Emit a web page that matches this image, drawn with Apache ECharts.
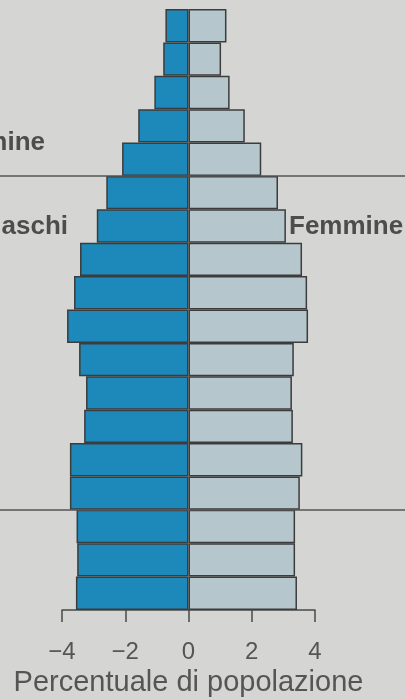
<!DOCTYPE html>
<html>
<head>
<meta charset="utf-8">
<script src="https://cdn.jsdelivr.net/npm/echarts@6/dist/echarts.min.js"></script>
<style>
  html, body { margin: 0; padding: 0; background: #d5d5d3; }
  #chart { width: 405px; height: 699px; }
</style>
</head>
<body>
<div id="chart"></div>
<script>
// Classi di età (dal basso verso l'alto)
const ageGroups = ['0-4', '5-9', '10-14', '15-19', '20-24', '25-29', '30-34', '35-39', '40-44',
  '45-49', '50-54', '55-59', '60-64', '65-69', '70-74', '75-79', '80-84', '85+']

// Percentuale di popolazione, maschi (negativi) e femmine
const maschi = [3.56, 3.52, 3.54, 3.75, 3.75, 3.3, 3.24, 3.46, 3.84,
  3.62, 3.43, 2.9, 2.6, 2.1, 1.59, 1.08, 0.8, 0.73]
const femmine = [3.43, 3.37, 3.37, 3.52, 3.6, 3.3, 3.27, 3.33, 3.78,
  3.75, 3.59, 3.08, 2.83, 2.3, 1.78, 1.3, 1.03, 1.2]

// Linee di separazione tra i gruppi (in numero di classi dal basso)
const divisori = [3, 13]

const xTicks = [-4, -2, 0, 2, 4]

const chart = echarts.init(document.getElementById('chart'))

const textStyle = { fontFamily: 'Liberation Sans', fontWeight: 'bold', fontSize: 26, fill: '#4d4d4d' }

chart.setOption({
  backgroundColor: '#d5d5d3',
  animation: false,
  grid: [
    { left: 62, right: 90, top: 9, bottom: 89, outerBoundsMode: 'none', containLabel: false },
    { left: 0, right: 0, top: 9, bottom: 89, outerBoundsMode: 'none', containLabel: false }
  ],
  xAxis: [
    {
      type: 'value',
      gridIndex: 0,
      min: xTicks[0],
      max: xTicks[xTicks.length - 1],
      interval: 2,
      splitLine: { show: false },
      axisLine: { show: true, lineStyle: { color: '#4a4a4a', width: 1.5 } },
      axisTick: { show: true, length: 12, lineStyle: { color: '#4a4a4a', width: 1.5 } },
      axisLabel: {
        margin: 30,
        fontFamily: 'Liberation Sans',
        fontSize: 24,
        color: '#555',
        formatter: v => (v < 0 ? '\u2212' + Math.abs(v) : String(v))
      },
      name: 'Percentuale di popolazione',
      nameLocation: 'middle',
      nameGap: 57,
      nameTextStyle: { fontFamily: 'Liberation Sans', fontSize: 29, color: '#555' }
    },
    { type: 'value', gridIndex: 1, min: 0, max: 1, show: false }
  ],
  yAxis: [
    {
      type: 'category',
      gridIndex: 0,
      data: ageGroups,
      axisLine: { show: false },
      axisTick: { show: false },
      axisLabel: { show: false }
    },
    { type: 'value', gridIndex: 1, min: 0, max: ageGroups.length, show: false }
  ],
  series: [
    {
      // linee orizzontali dietro la piramide
      type: 'line',
      xAxisIndex: 1,
      yAxisIndex: 1,
      data: [],
      z: 1,
      silent: true,
      markLine: {
        symbol: 'none',
        silent: true,
        label: { show: false },
        lineStyle: { color: '#555', width: 1.5, type: 'solid' },
        data: divisori.map(v => ({ yAxis: v }))
      }
    },
    {
      name: 'Maschi',
      type: 'bar',
      data: maschi.map(v => -v),
      barWidth: '100%',
      barGap: '-100%',
      z: 3,
      itemStyle: { color: '#1c89ba', borderColor: '#3c3c3c', borderWidth: 1.5 }
    },
    {
      name: 'Femmine',
      type: 'bar',
      data: femmine,
      barWidth: '100%',
      barGap: '-100%',
      z: 3,
      itemStyle: { color: '#b5c7cd', borderColor: '#3c3c3c', borderWidth: 1.5 }
    }
  ],
  graphic: [
    { type: 'text', right: 360, top: 130, style: Object.assign({ text: 'Femmine' }, textStyle) },
    { type: 'text', right: 337, top: 214, style: Object.assign({ text: 'Maschi' }, textStyle) },
    { type: 'text', left: 289, top: 214, style: Object.assign({ text: 'Femmine' }, textStyle) }
  ]
})
</script>
</body>
</html>
